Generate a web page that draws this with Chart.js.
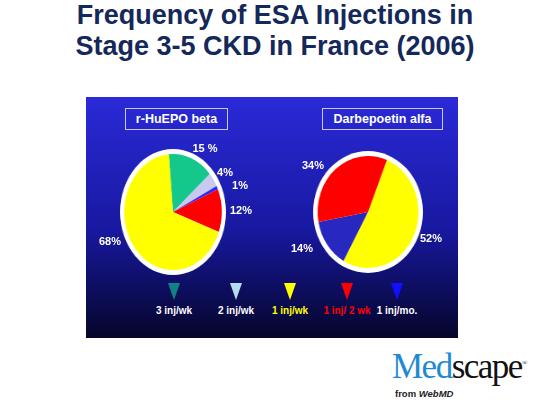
<!DOCTYPE html>
<html><head><meta charset="utf-8">
<script src="https://cdn.jsdelivr.net/npm/chart.js@4"></script>
<style>
body{margin:0;width:550px;height:413px;background:#fff;position:relative;overflow:hidden;font-family:"Liberation Sans",Arial,sans-serif}
.t{position:absolute;white-space:nowrap}
#title{left:0;width:550px;top:22px;text-align:center;color:#14285a;font-weight:bold;font-size:27px;line-height:31px}
#panel{position:absolute;left:86px;top:97px;width:372px;height:241px;background:linear-gradient(#2a2ad8,#1818a0 55%,#05052a)}
.box{position:absolute;border:1px solid #c8c8f0;color:#fff;font-weight:bold;font-size:12.5px;text-align:center;line-height:20px}
.lbl{color:#fff;font-weight:bold;font-size:11px;transform:translate(-50%,-50%)}
.pie{position:absolute;width:140px;height:140px}
.tri{position:absolute;width:0;height:0;border-left:6px solid transparent;border-right:6px solid transparent;border-top:17px solid}
.lg{font-weight:bold;font-size:10px;transform:translateX(-50%)}
</style></head><body>
<div id="title">Frequency of ESA Injections in<br>Stage 3-5 CKD in France (2006)</div>
<div id="panel"></div>
<div class="box" style="left:125px;top:108px;width:101px">r-HuEPO beta</div>
<div class="box" style="left:322px;top:108px;width:119px">Darbepoetin alfa</div>
<div class="pie" id="w1" style="left:103px;top:142px;transform:scaleX(0.84)"><canvas id="c1" width="140" height="140"></canvas></div>
<div class="pie" id="w2" style="left:298px;top:142px;transform:scaleX(0.9)"><canvas id="c2" width="140" height="140"></canvas></div>
<div id="labels"></div>
<div class="t" style="left:392px;top:353px;font-family:'Liberation Serif',serif;font-size:35px;letter-spacing:-1.5px;line-height:28px"><span style="color:#1e8ad2">Med</span><span style="color:#111">scape</span><sup style="font-size:7px;color:#111;line-height:0">®</sup></div>
<div class="t" style="left:395px;top:388px;font-size:9.5px;line-height:11px;color:#222;font-weight:bold">from <i>WebMD</i></div>
<script>
const categories=["3 inj/wk","2 inj/wk","1 inj/wk","1 inj/ 2 wk","1 inj/mo."];
const epoLabels=["3 inj/wk","2 inj/wk","1 inj/mo.","1 inj/ 2 wk","1 inj/wk"];
const epoValues=[15,4,1,12,68];
const epoText=["15 %","4%","1%","12%","68%"];
const darbLabels=["1 inj/wk","1 inj/mo.","1 inj/ 2 wk"];
const darbValues=[52,14,34];
const darbText=["52%","14%","34%"];

const ring={id:'ring',beforeDatasetsDraw(ch){const a=ch.getDatasetMeta(0).data[0];const c=ch.ctx;c.save();c.beginPath();c.arc(a.x,a.y,a.outerRadius+5,0,Math.PI*2);c.fillStyle='#fff';c.fill();c.restore();}};
function pie(id,labels,data,colors,rot,r){
 new Chart(document.getElementById(id),{type:'pie',plugins:[ring],
 data:{labels,datasets:[{data,backgroundColor:colors,borderWidth:0,radius:r}]},
 options:{responsive:false,animation:false,rotation:rot,plugins:{legend:{display:false},tooltip:{enabled:false}}}});
}
pie('c1',epoLabels,epoValues,['#14c88c','#c8c8f0','#2a2aff','#ff0000','#ffff00'],-5,58);
pie('c2',darbLabels,darbValues,['#ffff00','#2828c0','#ff0000'],22,56);

const L=document.getElementById('labels');
function add(txt,x,y,cls,col){const d=document.createElement('div');d.className='t '+cls;d.style.left=x+'px';d.style.top=y+'px';if(col)d.style.color=col;d.textContent=txt;L.appendChild(d);}
[[205,148],[225,172],[240,185],[241,210],[110,241]].forEach((p,i)=>add(epoText[i],p[0],p[1],'lbl'));
[[431,238],[302,248],[313,165]].forEach((p,i)=>add(darbText[i],p[0],p[1],'lbl'));
const triCol=['#108484','#b4dcec','#ffff00','#ff0000','#1010ff'];
const txtCol=['#fff','#fff','#ffff00','#ff0000','#fff'];
const xs=[174,236,290,347,397];
categories.forEach((c,i)=>{const t=document.createElement('div');t.className='tri';t.style.left=(xs[i]-6)+'px';t.style.top='283px';t.style.borderTopColor=triCol[i];L.appendChild(t);add(c,xs[i],305,'lg',txtCol[i]);});
</script>
</body></html>
